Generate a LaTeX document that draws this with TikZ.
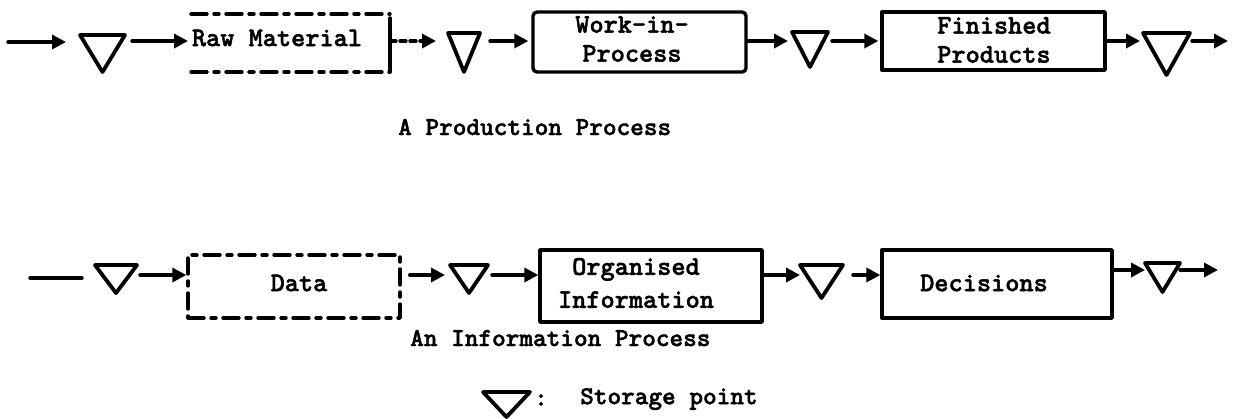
\documentclass[tikz,border=0pt]{standalone}
\usepackage{fontspec}
\usetikzlibrary{arrows.meta}
% heavy typewriter face
\newfontfamily\twface{lmmonolt10-bold.otf}[FakeBold=1.6]
\newcommand\twfont[2]{\fontsize{#1}{#2}\selectfont\twface}
\tikzset{
  ink/.style={line width=3.4pt, line cap=round, line join=round},
  flow/.style={ink, -{Triangle[length=14pt,width=14pt]}},
  procbox/.style={draw, ink, inner sep=0pt},
  gapdash/.style={ink, dash pattern=on 16pt off 7pt on 5pt off 7pt},
  slot/.style={inner sep=0pt, outer sep=0pt},
  storetri/.style={ink, line width=3.8pt},
  boxtext/.style={font=\twfont{27}{29}, align=center, inner sep=0pt},
  captext/.style={font=\twfont{26}{28}, anchor=west, inner sep=0pt},
}
\begin{document}
\begin{tikzpicture}[x=1pt,y=-1pt]
\useasboundingbox (0,0) rectangle (1237,418);

% ---------- production process ----------
\node[slot, minimum width=199pt, minimum height=58pt] (b1) at (290.5,43) {};
\node[procbox, rounded corners=4pt, minimum width=213pt, minimum height=60pt] (b2) at (639.5,42) {};
\node[procbox, minimum width=223pt, minimum height=58pt] (b3) at (993.5,41) {};
\draw[gapdash] (b1.north west) -- (b1.north east);
\draw[gapdash] (b1.south west) -- (b1.south east);
\draw[ink] ([yshift=-4pt]b1.north east) -- (b1.south east);

\node[boxtext] (l1) at (277,38) {Raw Material};
\node[boxtext] (l2) at (632,39) {Work-in-\\Process};
\node[boxtext] (l3) at (994,40) {Finished\\Products};

% storage points (bounding slots, triangle drawn from their anchors)
\node[slot, minimum width=45pt, minimum height=37pt] (t1) at (102.5,53.5) {};
\node[slot, minimum width=32pt, minimum height=39pt] (t2) at (464,52.5) {};
\node[slot, minimum width=36pt, minimum height=35pt] (t3) at (810,49.5) {};
\node[slot, minimum width=47pt, minimum height=42pt] (t4) at (1166.5,54) {};

\coordinate (r1) at (0,41);
\coordinate (in1) at (8,42);
\coordinate (out1) at (1228,41);

\draw[flow, shorten >=14pt] (in1) -- (in1 -| t1.west);
\draw[flow, shorten <=7pt, shorten >=3pt] (t1.east |- r1) -- (r1 -| b1.west);
\draw[flow, dash pattern=on 6pt off 4pt, shorten >=12pt] (b1.east |- r1) -- (r1 -| t2.west);
\draw[flow, shorten <=10pt, shorten >=3pt] (t2.east |- r1) -- (r1 -| b2.west);
\draw[flow, shorten >=4pt] (b2.east |- r1) -- (r1 -| t3.west);
\draw[flow, shorten <=4pt, shorten >=2pt] (t3.east |- r1) -- (r1 -| b3.west);
\draw[flow, shorten >=3pt] (b3.east |- r1) -- (r1 -| t4.west);
\draw[flow, shorten <=2pt] (t4.east |- out1) -- (out1);

\node[captext] (cap1) at (398,127) {A Production Process};

% ---------- information process ----------
\node[procbox, gapdash, minimum width=212pt, minimum height=63pt] (b4) at (294,286.5) {};
\node[procbox, minimum width=222pt, minimum height=72pt] (b5) at (651,286) {};
\node[procbox, minimum width=230pt, minimum height=68pt] (b6) at (997,284) {};

\node[boxtext] (l4) at (299,283) {Data};
\node[boxtext, font=\twfont{27}{33}] (l5) at (636,283) {Organised\\Information};
\node[boxtext] (l6) at (984,283) {Decisions};

\node[slot, minimum width=42pt, minimum height=28pt] (t5) at (116,279) {};
\node[slot, minimum width=38pt, minimum height=28pt] (t6) at (469,279) {};
\node[slot, minimum width=43pt, minimum height=33pt] (t7) at (821.5,281.5) {};
\node[slot, minimum width=35pt, minimum height=29pt] (t8) at (1162.5,277.5) {};

\coordinate (r2) at (0,275);
\coordinate (in2) at (30,278);
\coordinate (out2) at (1218,270);

\draw[ink, shorten >=13pt] (in2) -- (in2 -| t5.west);
\draw[flow, shorten <=3pt] (t5.east |- r2) -- (r2 -| b4.west);
\draw[flow, shorten <=8pt, shorten >=5pt] (b4.east |- r2) -- (r2 -| t6.west);
\draw[flow, shorten <=4pt] (t6.east |- r2) -- (r2 -| b5.west);
\draw[flow] (b5.east |- r2) -- (r2 -| t7.west);
\draw[flow, shorten <=10pt] (t7.east |- r2) -- (r2 -| b6.west);
\draw[flow] (b6.east |- out2) -- (out2 -| t8.west);
\draw[flow] (t8.east |- out2) -- (out2);

\node[captext] (cap2) at (410,338) {An Information Process};

% ---------- key ----------
\node[slot, minimum width=47pt, minimum height=25pt] (tl) at (506.5,404.5) {};
\node[captext] (colon) at (534,400) {:};
\node[captext] (key) at (580,399) {Storage point};

\foreach \t in {t1,t2,t3,t4,t5,t6,t7,t8,tl}
  \draw[storetri] (\t.north west) -- (\t.north east) -- (\t.south) -- cycle;
\end{tikzpicture}
\end{document}
